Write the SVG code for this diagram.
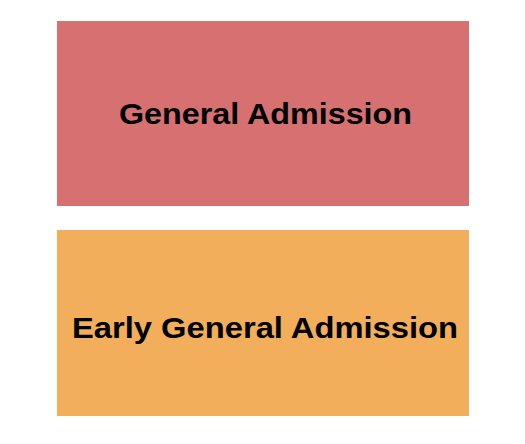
<svg xmlns="http://www.w3.org/2000/svg" width="525" height="444" viewBox="0 0 525 444">
<style>
.lbl{font-family:"Liberation Sans",Arial,sans-serif;font-weight:bold;font-size:30px;fill:#000;text-anchor:middle}
</style>
<rect width="525" height="444" fill="#fff"/>
<g id="general-admission">
<rect x="57" y="21" width="412" height="185" fill="#D77070"/>
<text class="lbl" x="265.5" y="124.3" textLength="293" lengthAdjust="spacingAndGlyphs">General Admission</text>
</g>
<g id="early-general-admission">
<rect x="57" y="230" width="412" height="186" fill="#F2AE5B"/>
<text class="lbl" x="265" y="337.7" textLength="386" lengthAdjust="spacingAndGlyphs">Early General Admission</text>
</g>
<g id="connectors"/>
</svg>
